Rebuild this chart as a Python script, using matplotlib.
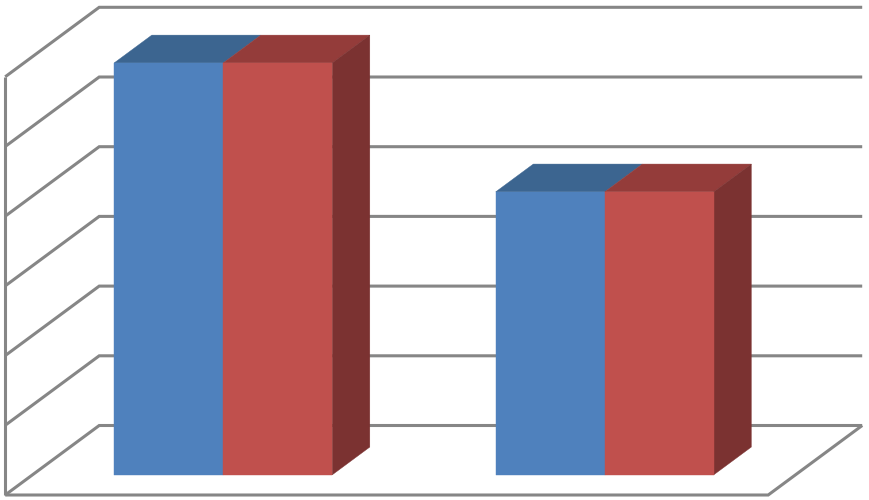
import matplotlib
matplotlib.use("Agg")
import matplotlib.pyplot as plt

# Data (no labels in the picture, values read off the gridlines)
categories = ["A", "B"]
series_1 = [5.91, 4.06]
series_2 = [5.91, 4.06]
y_ticks = [0, 1, 2, 3, 4, 5, 6]

# Colours
grid_col = "#868686"
blue = ("#4f81bd", "#3c6590")
red = ("#c0504d", "#943c3a", "#7b3231")

# Projection of the fake 3D box, in pixels
ORIGIN_X, ORIGIN_Y = 5.2, 495.0
CAT_W = 381.5
UNIT_H = 69.7
DEPTH_X, DEPTH_Y = 94, -69.5
BAR_W = CAT_W / 3.5
GAP = BAR_W * 0.75
D_FRONT, D_BACK = 0.29, 0.69


def proj(cat, val, depth):
    return (ORIGIN_X + cat * CAT_W + depth * DEPTH_X,
            ORIGIN_Y - val * UNIT_H + depth * DEPTH_Y)


def poly(ax, pts, colour, z):
    xs, ys = zip(*pts)
    ax.fill(xs, ys, facecolor=colour, edgecolor=colour, linewidth=0.3, zorder=z)


fig = plt.figure(figsize=(8.69, 5.0), dpi=100)
ax = fig.add_axes([0, 0, 1, 1])
ax.set_xlim(0, 869)
ax.set_ylim(500, 0)
ax.axis("off")

n_cat = len(categories)
top = y_ticks[-1]


def wire(pts):
    xs, ys = zip(*pts)
    ax.plot(xs, ys, color=grid_col, lw=2.2, solid_joinstyle="miter",
            solid_capstyle="butt", zorder=1)


# Walls and floor
for t in y_ticks:
    wire([proj(0, t, 0), proj(0, t, 1), proj(n_cat, t, 1)])
wire([proj(0, 0, 0), proj(0, top, 0)])
wire([proj(0, 0, 0), proj(n_cat, 0, 0), proj(n_cat, 0, 1)])

# Bars
for i in range(n_cat):
    x0 = i + GAP / CAT_W
    x1 = x0 + BAR_W / CAT_W
    x2 = x1 + BAR_W / CAT_W
    v1, v2 = series_1[i], series_2[i]

    poly(ax, [proj(x0, v1, D_FRONT), proj(x1, v1, D_FRONT),
              proj(x1, v1, D_BACK), proj(x0, v1, D_BACK)], blue[1], 3)
    poly(ax, [proj(x1, v2, D_FRONT), proj(x2, v2, D_FRONT),
              proj(x2, v2, D_BACK), proj(x1, v2, D_BACK)], red[1], 4)
    poly(ax, [proj(x2, 0, D_FRONT), proj(x2, v2, D_FRONT),
              proj(x2, v2, D_BACK), proj(x2, 0, D_BACK)], red[2], 4)
    poly(ax, [proj(x0, 0, D_FRONT), proj(x1, 0, D_FRONT),
              proj(x1, v1, D_FRONT), proj(x0, v1, D_FRONT)], blue[0], 5)
    poly(ax, [proj(x1, 0, D_FRONT), proj(x2, 0, D_FRONT),
              proj(x2, v2, D_FRONT), proj(x1, v2, D_FRONT)], red[0], 6)

fig.savefig("out.png", dpi=100, facecolor="white")
